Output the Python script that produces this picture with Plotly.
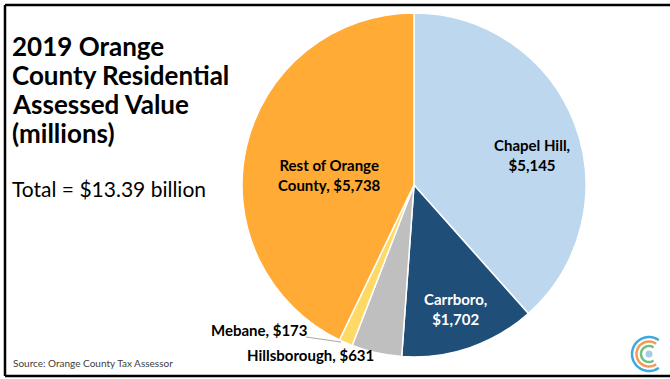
import numpy as np
import plotly.graph_objects as go

W, H = 670, 379

regions = ["Chapel Hill", "Carrboro", "Hillsborough", "Mebane", "Rest of Orange County"]
values = [5145, 1702, 631, 173, 5738]
colors = ["#BDD7EE", "#1F4E79", "#BFBFBF", "#FFD966", "#FFAB35"]
label_text = ["Chapel Hill,<br>$5,145", "Carrboro,<br>$1,702", "Hillsborough, $631",
              "Mebane, $173", "Rest of Orange<br>County, $5,738"]
label_color = ["#000000", "#FFFFFF", "#000000", "#000000", "#000000"]
label_pos = [(532, 155), (455, 309), (310, 355), (259, 330), (329, 175)]

FONT = "Lato, Calibri, Carlito, sans-serif"

def px(x, y):
    return x / W, 1 - y / H

fig = go.Figure()
fig.add_trace(go.Pie(
    labels=regions, values=values, sort=False, direction="clockwise", rotation=0,
    marker=dict(colors=colors, line=dict(color="#FFFFFF", width=1.5)),
    textinfo="none", hoverinfo="label+value", showlegend=False,
    domain=dict(x=[242 / W, 586 / W], y=[1 - 357 / H, 1 - 13 / H]),
))

annotations = []
for t, c, (x, y) in zip(label_text, label_color, label_pos):
    ax, ay = px(x, y)
    annotations.append(dict(x=ax, y=ay, xref="paper", yref="paper", text=f"<b>{t}</b>",
                            showarrow=False, font=dict(family=FONT, size=15, color=c),
                            xanchor="center", yanchor="middle", align="center"))

title_lines = ["2019 Orange", "County Residential", "Assessed Value", "(millions)"]
for i, line in enumerate(title_lines):
    ax, ay = px(10, 46 + i * 29)
    annotations.append(dict(x=ax, y=ay, xref="paper", yref="paper", text=f"<b>{line}</b>",
                            showarrow=False, font=dict(family=FONT, size=26, color="#000"),
                            xanchor="left", yanchor="middle"))
ax, ay = px(10, 188)
annotations.append(dict(x=ax, y=ay, xref="paper", yref="paper", text="Total = $13.39 billion",
                        showarrow=False, font=dict(family=FONT, size=21, color="#000"),
                        xanchor="left", yanchor="middle"))
ax, ay = px(11, 363)
annotations.append(dict(x=ax, y=ay, xref="paper", yref="paper", text="Source: Orange County Tax Assessor",
                        showarrow=False, font=dict(family=FONT, size=10, color="#404040"),
                        xanchor="left", yanchor="middle"))

shapes = [
    dict(type="line", x0=5, y0=5, x1=W, y1=5, xref="x", yref="y", line=dict(color="#000", width=2.5)),
    dict(type="line", x0=5, y0=5, x1=5, y1=376, xref="x", yref="y", line=dict(color="#000", width=2.5)),
    dict(type="line", x0=5, y0=376, x1=W, y1=376, xref="x", yref="y", line=dict(color="#000", width=2.5)),
    dict(type="line", x0=306, y0=337, x1=341, y1=342, xref="x", yref="y", line=dict(color="#A6A6A6", width=1)),
]

# logo arcs
cx, cy = 649, 354
for r, col in [(17, "#3DA9DC"), (12.5, "#F39A5A"), (8, "#6CC183")]:
    th = np.radians(np.linspace(55, 305, 40))
    pts = [(cx + r * np.cos(t), cy - r * np.sin(t)) for t in th]
    path = "M " + " L ".join(f"{x:.2f},{y:.2f}" for x, y in pts)
    shapes.append(dict(type="path", path=path, xref="x", yref="y", line=dict(color=col, width=2.5)))
shapes.append(dict(type="circle", x0=cx - 3.5, y0=cy - 3.5, x1=cx + 3.5, y1=cy + 3.5, xref="x", yref="y",
                   fillcolor="#A9CBEA", line=dict(width=0)))

fig.update_layout(
    width=W, height=H, margin=dict(l=0, r=0, t=0, b=0),
    paper_bgcolor="#FFFFFF", plot_bgcolor="rgba(0,0,0,0)",
    xaxis=dict(range=[0, W], visible=False, domain=[0, 1], fixedrange=True),
    yaxis=dict(range=[H, 0], visible=False, domain=[0, 1], fixedrange=True),
    annotations=annotations, shapes=shapes, showlegend=False,
)
fig.write_html("out.html", config=dict(displayModeBar=False),
               post_script="document.body.style.margin='0';document.body.style.overflow='hidden';")
